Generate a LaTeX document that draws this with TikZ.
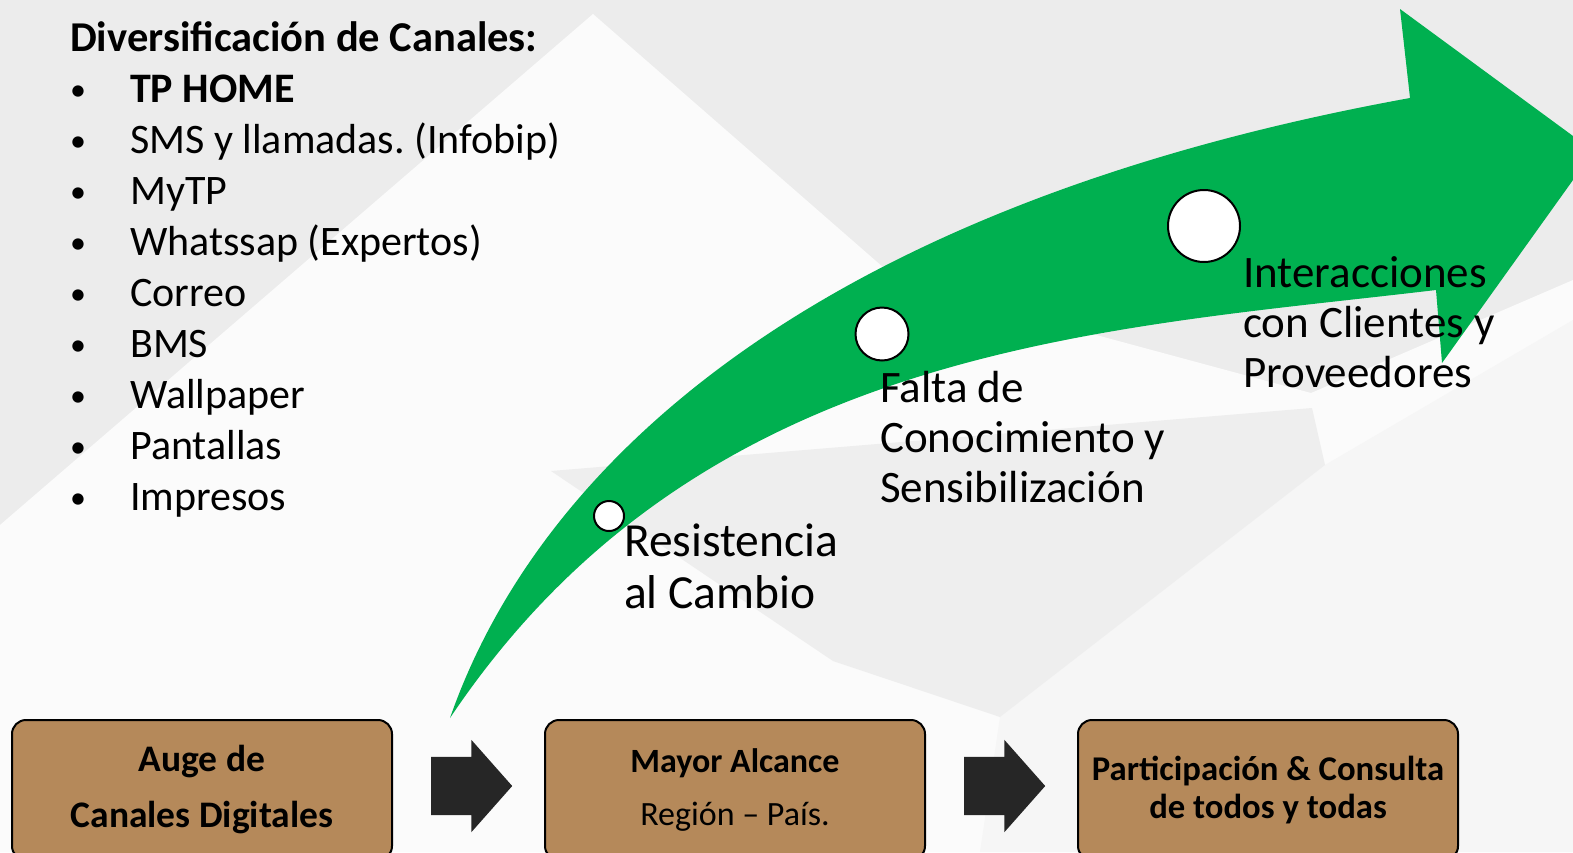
\documentclass[tikz,border=0pt]{standalone}
\usepackage{fontspec}
\setmainfont{Carlito}
\usepackage{xcolor}
\usetikzlibrary{calc,shapes.arrows}

\definecolor{verde}{RGB}{0,176,80}
\definecolor{cafe}{RGB}{181,137,90}
\definecolor{oscuro}{RGB}{38,38,38}
\frenchspacing

\begin{document}
\begin{tikzpicture}[x=1pt,y=-1pt,
      item/.style={anchor=base west,inner sep=0,font=\fontsize{42}{51}\selectfont},
      etapa/.style={anchor=north west,inner sep=0,align=left,font=\fontsize{45}{50}\selectfont},
      punto/.style={circle,draw=black,fill=white,line width=2pt,inner sep=0},
      caja/.style={rounded corners=14pt,draw=black,fill=cafe,line width=2pt,
            minimum width=380pt,minimum height=140pt,align=center,inner sep=0},
      bloque/.style={single arrow,fill=oscuro,draw=none,inner xsep=0,inner ysep=29pt,anchor=tail,
            minimum height=81pt,single arrow head extend=17pt,single arrow tip angle=97}
]
      % fondo
      \fill[gray!15] (0,0) rectangle (1573,852);
      \fill[gray!3] (0,525) -- (593,14) -- (900,282) -- (1311,393) -- (1573,280)
            -- (1573,852) -- (0,852) -- cycle;
      \fill[gray!7] (1325,465) -- (1573,320) -- (1573,852) -- (980,852) -- (1000,717) -- cycle;
      \fill[gray!13] (551,471) -- (1312,408) -- (1325,465) -- (1000,717) -- (833,661) -- cycle;
      \useasboundingbox (0,0) rectangle (1573,852);

      % lista
      \node[item,font=\fontsize{42.5}{51}\bfseries] (titulo) at (70,51) {Diversificación de Canales:};
      \foreach \t [count=\i] in {{\bfseries TP HOME},SMS y llamadas. (Infobip),MyTP,
            Whatssap (Expertos),Correo,BMS,Wallpaper,Pantallas,Impresos} {
          \node[item,font=\fontsize{32}{51}\selectfont] (b\i) at (70,49+51*\i) {•};
          \node[item] (l\i) at (130,51+51*\i) {\t};
      }

      % flecha verde
      \fill[verde] (450,718) .. controls (540,460) and (820,205) .. (1410,98)
            -- (1400,9) -- (1573,136) -- (1573,180) -- (1442,363) -- (1436,290)
            .. controls (1100,330) and (700,345) .. (450,718) -- cycle;

      \node[punto,minimum size=30pt] (p1) at (609,516) {};
      \node[punto,minimum size=53pt] (p2) at (882,334) {};
      \node[punto,minimum size=72pt] (p3) at (1204,226) {};

      \node[etapa,font=\fontsize{47.5}{52}\selectfont] (e1) at (624,524) {Resistencia\\al Cambio};
      \node[etapa] (e2) at (880,371) {Falta de\\Conocimiento y\\Sensibilización};
      \node[etapa] (e3) at (1243,256) {Interacciones\\con Clientes y\\Proveedores};

      % cajas
      \node[caja,font=\fontsize{37.5}{56}\bfseries] (auge) at (202,790) {Auge de\\Canales Digitales};
      \node[caja,font=\fontsize{34}{53}\selectfont] (alcance) at (735,790) {\textbf{Mayor Alcance}\\Región – País.};
      \node[caja,font=\fontsize{34.7}{38}\bfseries] (todos) at (1268,790) {Participación \& Consulta\\de todos y todas};

      \node[bloque] (f1) at ($(auge.east)+(38,-4)$) {};
      \node[bloque] (f2) at ($(alcance.east)+(38,-4)$) {};
\end{tikzpicture}
\end{document}
